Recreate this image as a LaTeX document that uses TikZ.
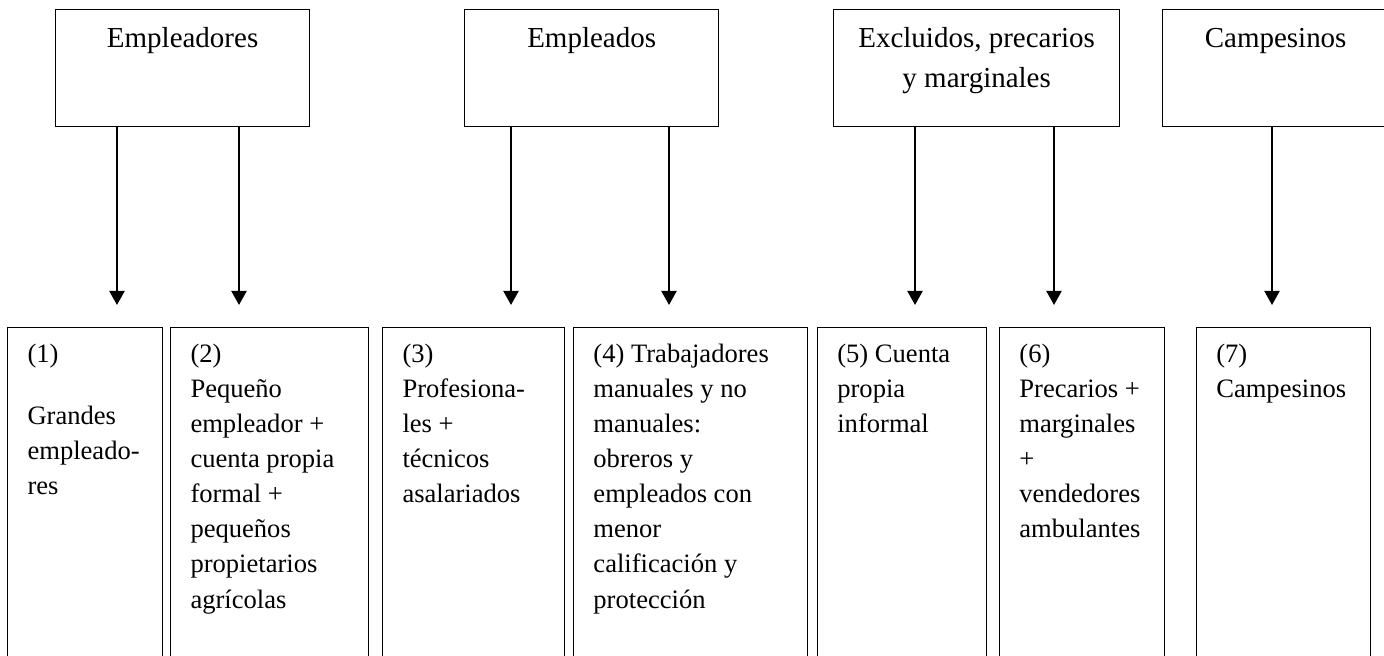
\documentclass[tikz,border=0pt]{standalone}
\usepackage{fontspec}
\setmainfont{Liberation Serif}
\usetikzlibrary{arrows.meta,positioning}
\tikzset{
  grupo/.style={draw,line width=0.5pt,minimum width=#1*0.414pt,minimum height=117*0.414pt,inner sep=0pt},
  clase/.style={draw,line width=0.5pt,minimum width=#1*0.414pt,minimum height=360*0.414pt,inner sep=0pt},
  rotulo/.style={anchor=north,inner sep=0pt,align=center,font=\fontsize{12}{16.5}\selectfont},
  texto/.style={anchor=north west,inner sep=0pt,align=left,font=\fontsize{11}{14.5}\selectfont},
  flecha/.style={-{Triangle[width=6.2pt,length=5.8pt]},line width=0.85pt}
}

\begin{document}
\begin{tikzpicture}[x=0.414pt,y=-0.414pt]
\useasboundingbox (0,0) rectangle (1384,656);
\clip (0,0) rectangle (1384,656);

% grupos
\node[grupo=254,anchor=north west] (G1) at (55,9) {};
\node[grupo=254,right=63.7pt of G1] (G2) {};
\node[grupo=286,right=47.1pt of G2] (G3) {};
\node[grupo=226,right=17.3pt of G3] (G4) {};

\node[rotulo] at ([yshift=-7.6pt]G1.north) {Empleadores};
\node[rotulo] at ([yshift=-7.6pt]G2.north) {Empleados};
\node[rotulo] at ([yshift=-7.6pt]G3.north) {Excluidos, precarios\\y marginales};
\node[rotulo] at ([yshift=-7.6pt]G4.north) {Campesinos};

% clases
\node[clase=155,anchor=north west] (C1) at (7,327) {};
\node[clase=198,right=2.8pt of C1] (C2) {};
\node[clase=182,right=5.3pt of C2] (C3) {};
\node[clase=234,right=3.2pt of C3] (C4) {};
\node[clase=169,right=3.6pt of C4] (C5) {};
\node[clase=165,right=4.9pt of C5] (C6) {};
\node[clase=174,right=12.7pt of C6] (C7) {};

\node[texto] at ([xshift=8.3pt,yshift=-7pt]C1.north west) {(1)\\[11.2pt]Grandes\\empleado-\\res};
\node[texto] at ([xshift=8.3pt,yshift=-7pt]C2.north west) {(2)\\Pequeño\\empleador +\\cuenta propia\\formal +\\pequeños\\propietarios\\agrícolas};
\node[texto] at ([xshift=8.3pt,yshift=-7pt]C3.north west) {(3)\\Profesiona-\\les +\\técnicos\\asalariados};
\node[texto] at ([xshift=8.3pt,yshift=-7pt]C4.north west) {(4) Trabajadores\\manuales y no\\manuales:\\obreros y\\empleados con\\menor\\calificación y\\protección};
\node[texto] at ([xshift=8.3pt,yshift=-7pt]C5.north west) {(5) Cuenta\\propia\\informal};
\node[texto] at ([xshift=8.3pt,yshift=-7pt]C6.north west) {(6)\\Precarios +\\marginales\\+\\vendedores\\ambulantes};
\node[texto] at ([xshift=8.3pt,yshift=-7pt]C7.north west) {(7)\\Campesinos};

% flechas
\coordinate (p1) at (117,305);
\coordinate (p2) at (239,305);
\coordinate (p3) at (511,305);
\coordinate (p4) at (669,305);
\coordinate (p5) at (915,305);
\coordinate (p6) at (1054,305);
\coordinate (p7) at (1272,305);

\draw[flecha] (G1.south -| p1) -- (p1);
\draw[flecha] (G1.south -| p2) -- (p2);
\draw[flecha] (G2.south -| p3) -- (p3);
\draw[flecha] (G2.south -| p4) -- (p4);
\draw[flecha] (G3.south -| p5) -- (p5);
\draw[flecha] (G3.south -| p6) -- (p6);
\draw[flecha] (G4.south -| p7) -- (p7);

\end{tikzpicture}
\end{document}
